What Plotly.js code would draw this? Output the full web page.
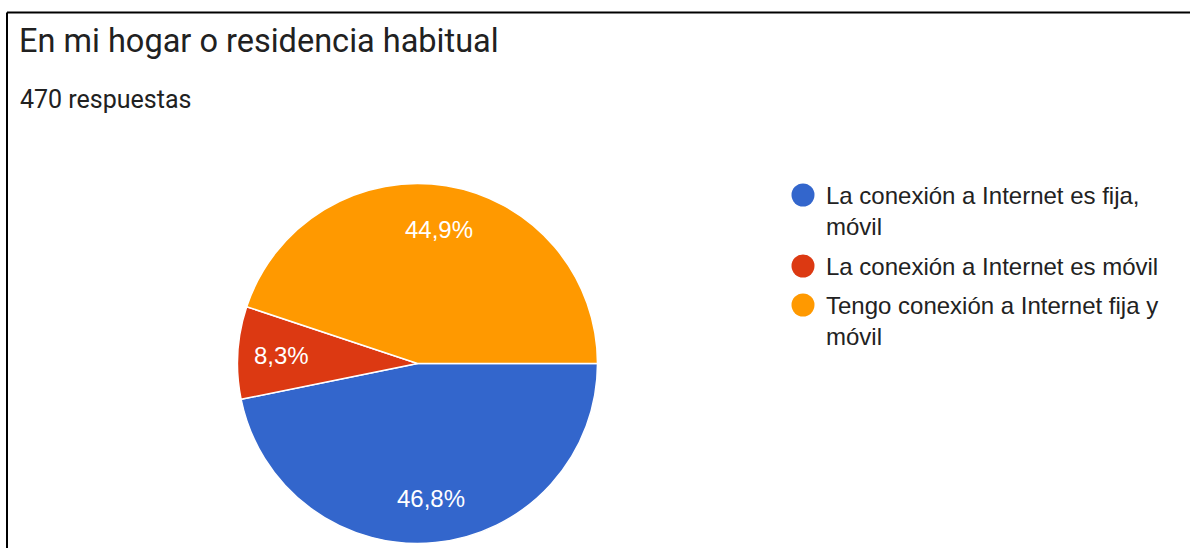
<!DOCTYPE html>
<html>
<head>
<meta charset="utf-8">
<script src="https://cdn.plot.ly/plotly-3.0.1.min.js"></script>
<style>
  html, body { margin: 0; padding: 0; background: #ffffff; }
  #chart { width: 1190px; height: 548px; }
</style>
</head>
<body>
<div id="chart"></div>
<script>
// ---- data ----
const chartTitle = "En mi hogar o residencia habitual";
const subtitle = "470 respuestas";
const categories = [
  "La conexión a Internet es fija, móvil",
  "La conexión a Internet es móvil",
  "Tengo conexión a Internet fija y móvil"
];
const counts = [220, 39, 211];
const colors = ["#3366cc", "#dc3912", "#ff9900"];

// ---- layout helpers ----
const W = 1190, H = 548;
const px = x => x / W;
const py = y => 1 - y / H;

function wrap(text, maxChars) {
  const words = text.split(" ");
  const lines = [];
  let cur = "";
  words.forEach(w => {
    const test = cur ? cur + " " + w : w;
    if (test.length > maxChars && cur) { lines.push(cur); cur = w; }
    else cur = test;
  });
  if (cur) lines.push(cur);
  return lines;
}

const pieCx = 417.5, pieCy = 363.5, pieR = 180;
const startAngle = 90; // degrees clockwise from 12 o'clock
const labelFrac = 0.755;

const trace = {
  type: "pie",
  values: counts,
  labels: categories,
  sort: false,
  direction: "clockwise",
  rotation: startAngle,
  marker: { colors: colors, line: { color: "#ffffff", width: 1.5 } },
  textinfo: "none",
  hoverinfo: "label+percent",
  showlegend: false,
  domain: {
    x: [px(pieCx - pieR), px(pieCx + pieR)],
    y: [py(pieCy + pieR), py(pieCy - pieR)]
  }
};

const shapes = [
  { type: "line", xref: "paper", yref: "paper", x0: px(7), x1: 1.01, y0: py(12.5), y1: py(12.5),
    line: { color: "#000000", width: 2 } },
  { type: "line", xref: "paper", yref: "paper", x0: px(7), x1: px(7), y0: py(12.5), y1: -0.01,
    line: { color: "#000000", width: 2 } }
];

const annotations = [
  { text: subtitle, xref: "paper", yref: "paper", x: px(18), y: py(99), xanchor: "left", yanchor: "middle",
    showarrow: false, font: { family: "Roboto, sans-serif", size: 25, color: "#212121" } }
];

// percentage labels placed at each slice's mid angle (derived from the values)
const total = counts.reduce((a, b) => a + b, 0);
let acc = 0;
counts.forEach((v, i) => {
  const frac = v / total;
  const mid = (startAngle + (acc + frac / 2) * 360) * Math.PI / 180;
  acc += frac;
  const lx = pieCx + Math.sin(mid) * pieR * labelFrac;
  const ly = pieCy - Math.cos(mid) * pieR * labelFrac;
  annotations.push({
    text: (frac * 100).toFixed(1).replace(".", ",") + "%",
    xref: "paper", yref: "paper", x: px(lx), y: py(ly),
    xanchor: "center", yanchor: "middle", showarrow: false,
    font: { family: "Liberation Sans, Arial, sans-serif", size: 24, color: "#ffffff" }
  });
});

// legend (circles + wrapped labels)
const lineH = 32, itemGap = 7, legendX = 803, textX = 824, circleR = 11.5;
let yCursor = 195;
categories.forEach((c, i) => {
  const lines = wrap(c, 32);
  shapes.push({
    type: "circle", xref: "paper", yref: "paper",
    x0: px(legendX - circleR), x1: px(legendX + circleR),
    y0: py(yCursor + circleR), y1: py(yCursor - circleR),
    fillcolor: colors[i], line: { width: 0 }
  });
  annotations.push({
    text: lines.join("<br>"), xref: "paper", yref: "paper",
    x: px(textX), y: py(yCursor + (lines.length - 1) * lineH / 2),
    xanchor: "left", yanchor: "middle", align: "left", showarrow: false,
    font: { family: "Liberation Sans, Arial, sans-serif", size: 24, color: "#222222" }
  });
  yCursor += lines.length * lineH + itemGap;
});

const layout = {
  width: W, height: H,
  margin: { l: 0, r: 0, t: 0, b: 0 },
  paper_bgcolor: "#ffffff",
  separators: ",.",
  title: {
    text: chartTitle,
    xref: "container", yref: "container",
    x: px(19), xanchor: "left",
    y: py(41), yanchor: "middle",
    font: { family: "Roboto, sans-serif", size: 32.5, color: "#212121" }
  },
  shapes: shapes,
  annotations: annotations
};

Plotly.newPlot("chart", [trace], layout, { displayModeBar: false, staticPlot: true });
</script>
</body>
</html>
